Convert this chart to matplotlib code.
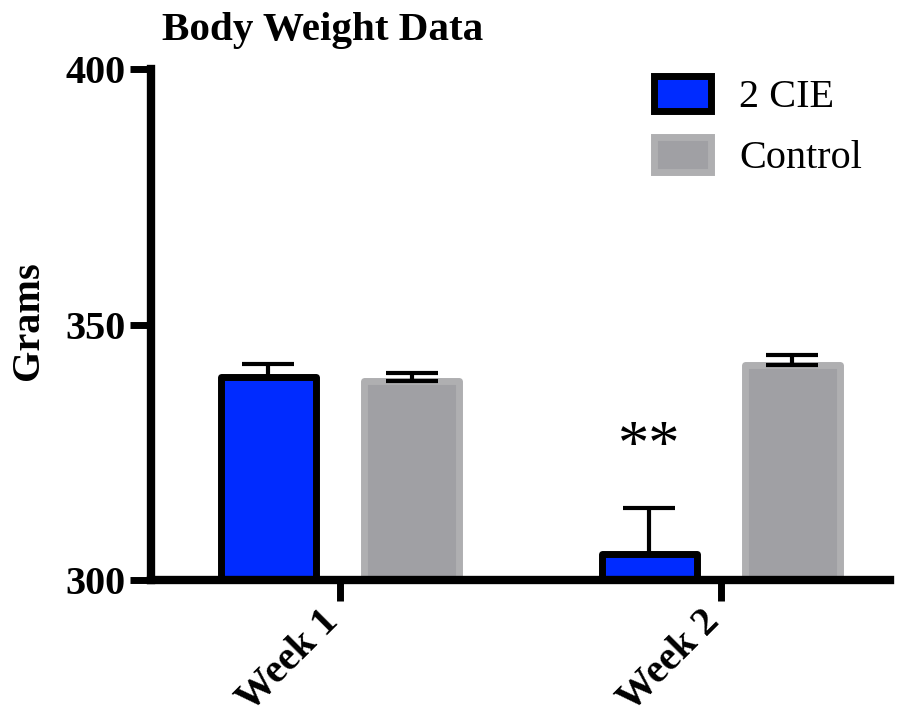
import matplotlib
matplotlib.use("Agg")
import matplotlib.pyplot as plt
import numpy as np

# data
weeks = ["Week 1", "Week 2"]
cie_mean = [339.8, 305.0]
cie_err = [2.4, 9.1]
ctrl_mean = [338.9, 342.0]
ctrl_err = [1.5, 2.0]
series_names = ["2 CIE", "Control"]

plt.rcParams['font.family'] = ['Liberation Serif', 'DejaVu Serif']

fig = plt.figure(figsize=(9.03, 7.15), dpi=100)
ax = fig.add_axes([0.1669, 0.1895, 0.8187, 0.7133])

x = np.arange(len(weeks))
off = 0.1877
w = 0.25

b1 = ax.bar(x - off, cie_mean, w, color='#002BFF', edgecolor='black',
            linewidth=5, joinstyle='round', label=series_names[0], zorder=2)
b2 = ax.bar(x + off, ctrl_mean, w, color='#A0A0A4', edgecolor='#AFAFB1',
            linewidth=5, joinstyle='round', label=series_names[1], zorder=2)

ax.errorbar(x - off, cie_mean, yerr=[np.zeros(2), cie_err], fmt='none',
            ecolor='black', elinewidth=3, capsize=19, capthick=3, zorder=3)
ax.errorbar(x + off, ctrl_mean, yerr=[np.zeros(2), ctrl_err], fmt='none',
            ecolor='black', elinewidth=3, capsize=19, capthick=3, zorder=3)

# significance mark
ax.text(x[1] - off, 325.5, '**', ha='center', va='center', fontsize=45)

ax.set_xlim(-0.4968, 1.4436)
ax.set_ylim(300, 400)
ax.set_yticks([300, 350, 400])
ax.set_xticks(x)
ax.set_xticklabels(weeks, rotation=45, ha='right', va='baseline',
                   rotation_mode='anchor', fontsize=29, fontweight='bold')
for lbl in ax.get_yticklabels():
    lbl.set_fontsize(29)
    lbl.set_fontweight('bold')

ax.spines['top'].set_visible(False)
ax.spines['right'].set_visible(False)
ax.spines['left'].set_linewidth(6)
ax.spines['bottom'].set_linewidth(6)
ax.tick_params(axis='both', length=15, width=5, direction='out')
ax.tick_params(axis='y', pad=3)
ax.tick_params(axis='x', pad=16)

ax.set_ylabel('Grams', fontsize=29, fontweight='bold')
ax.yaxis.set_label_coords(-0.14, 0.507)

fig.text(162 / 903, 1 - 40 / 715, 'Body Weight Data', fontsize=29.6,
         fontweight='bold', ha='left', va='baseline')

ax.legend(loc='upper left', bbox_to_anchor=(654 / 903, 1 - 76 / 715),
          bbox_transform=fig.transFigure, frameon=False, fontsize=29,
          handlelength=1.42, handleheight=0.95, handletextpad=0.7,
          labelspacing=0.52, borderpad=0, borderaxespad=0)

fig.savefig('out.png', dpi=100)
